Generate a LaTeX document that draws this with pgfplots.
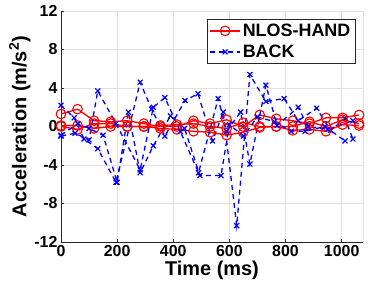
\documentclass[border=0pt]{standalone}
\usepackage{pgfplots}
\pgfplotsset{compat=1.18}
\usepackage{fontspec}
\setmainfont{Liberation Sans}
\definecolor{axgray}{RGB}{38,38,38}
\definecolor{gridgray}{RGB}{225,225,225}
\begin{document}
\begin{tikzpicture}
\begin{axis}[
  scale only axis,
  width=302bp, height=231bp,
  xmin=0, xmax=1076, ymin=-12, ymax=12,
  xtick={0,200,400,600,800,1000},
  ytick={-12,-8,-4,0,4,8,12},
  extra x ticks={1076}, extra x tick labels={},
  extra x tick style={grid=major, major tick length=0pt},
  axis x line*=bottom, axis y line*=left,
  axis line style={axgray, line width=0.8pt, -},
  tick style={axgray, line width=0.6pt},
  tick align=inside, major tick length=3bp,
  grid=major, major grid style={gridgray, line width=0.6pt},
  /pgf/number format/assume math mode=true,
  /pgf/number format/1000 sep={},
  ticklabel style={font=\fontsize{16}{18}\selectfont\bfseries, text=black},
  xlabel={Time (ms)}, ylabel={Acceleration (m/s$^{\mathbf{2}}$)},
  label style={font=\fontsize{20}{22}\selectfont\bfseries, text=black},
  xlabel style={yshift=3bp},
  ylabel style={yshift=-3bp},
  legend style={at={(rel axis cs:0.974,0.965)}, anchor=north east,
    font=\fontsize{18}{20}\selectfont\bfseries, draw=axgray, line width=0.6pt,
    inner sep=2.5bp, row sep=3bp, /tikz/every even column/.append style={column sep=1bp}},
  legend cell align=left,
  legend image code/.code={\draw[#1] (0bp,0bp) -- (30bp,0bp); \draw[#1,solid] plot coordinates {(15bp,0bp)};},
  every axis plot/.append style={line width=1.3pt},
  clip=false,
]
% NLOS-HAND (red, three traces)
\addplot[red, mark=o, mark size=4.8bp, mark options={solid, line width=1.1pt}] coordinates {
(0,1.3)(59,1.8)(118,0.6)(177,0.5)(236,0.6)(295,0.3)(354,0.0)(413,0.0)(472,0.6)(531,0.3)(590,0.7)(649,0.0)(708,1.2)(767,0.8)(826,0.6)(885,0.3)(944,0.9)(1003,0.9)(1062,1.2)
};
\addlegendentry{NLOS-HAND}
\addplot[blue, dash pattern=on 5bp off 4bp, mark=x, mark size=3.5bp, mark options={solid, line width=1.2pt}] coordinates {
(0,2.2)(47,0.9)(82,-1.3)(131,-2.3)(196,-5.8)(282,4.6)(323,1.8)(370,-1.0)(442,2.7)(488,3.4)(540,-1.5)(578,1.5)(626,-10.3)(673,5.4)(730,2.6)(795,2.9)(845,0.6)(911,1.9)(960,-0.4)(1012,0.8)(1040,-1.3)
};
\addlegendentry{BACK}
\addplot[red, mark=o, mark size=4.8bp, mark options={solid, line width=1.1pt}, forget plot] coordinates {
(0,0.0)(59,-0.3)(118,0.3)(177,0.3)(236,0.0)(295,0.0)(354,0.1)(413,0.2)(472,0.3)(531,0.0)(590,-0.2)(649,0.4)(708,0.0)(767,0.0)(826,0.0)(885,0.5)(944,0.0)(1003,0.7)(1062,0.3)
};
\addplot[red, mark=o, mark size=4.8bp, mark options={solid, line width=1.1pt}, forget plot] coordinates {
(0,0.1)(59,0.1)(118,-0.2)(177,0.0)(236,0.0)(295,0.0)(354,-0.2)(413,-0.3)(472,-0.5)(531,-0.6)(590,-0.9)(649,-0.6)(708,-0.1)(767,0.0)(826,-0.4)(885,-0.3)(944,-0.5)(1003,0.2)(1062,0.1)
};
\addplot[blue, dash pattern=on 5bp off 4bp, mark=x, mark size=3.5bp, mark options={solid, line width=1.2pt}, forget plot] coordinates {
(0,-1.0)(50,-0.7)(100,-1.4)(131,3.7)(196,0.3)(282,-4.5)(329,2.0)(370,3.0)(425,-0.5)(490,-4.8)(560,2.9)(590,-0.5)(640,1.5)(673,-3.9)(730,4.3)(770,0.1)(845,2.0)(880,0.0)(950,-0.3)(1040,0.6)
};
\addplot[blue, dash pattern=on 5bp off 4bp, mark=x, mark size=3.5bp, mark options={solid, line width=1.2pt}, forget plot] coordinates {
(0,-0.9)(60,0.3)(100,-0.2)(150,-0.9)(200,-5.8)(240,1.5)(282,-4.8)(329,-2.0)(390,1.1)(440,-0.2)(495,-5.1)(570,-5.1)(600,0.2)(650,-1.0)(700,1.0)(760,0.5)(820,-0.5)(870,-0.5)(940,0.0)(1012,-1.5)
};
\end{axis}
\useasboundingbox ([xshift=-61bp,yshift=-51bp]current axis.south west) rectangle ([xshift=5bp,yshift=11bp]current axis.north east);
\end{tikzpicture}
\end{document}
